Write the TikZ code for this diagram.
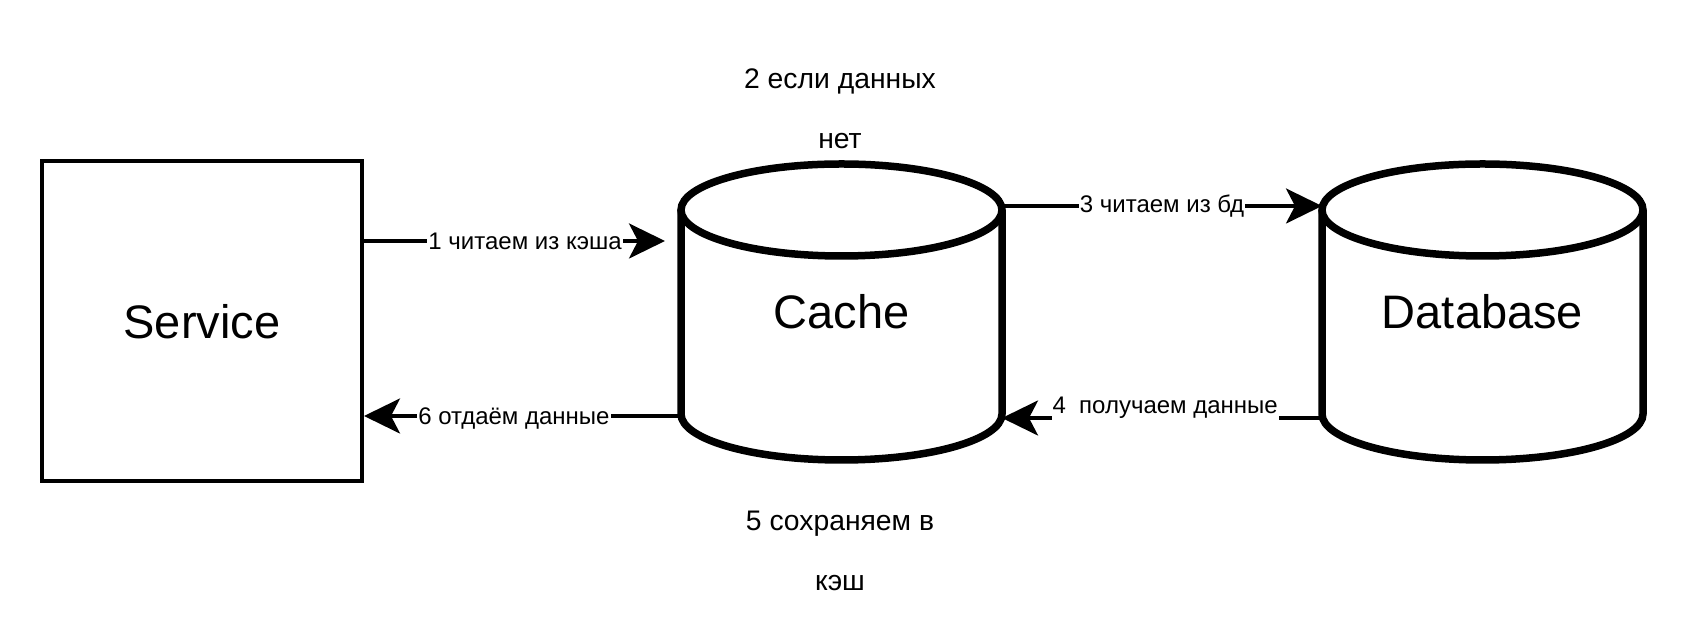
\documentclass[tikz,border=0pt]{standalone}
\usepackage{fontspec}
\setmainfont{Liberation Sans}
\usetikzlibrary{arrows.meta}
\begin{document}
\begin{tikzpicture}[x=1pt,y=1pt,
	big/.style={font=\fontsize{47}{56}\selectfont},
	cylbox/.style={big,minimum width=321pt,minimum height=296pt,inner sep=0pt,outer sep=0pt},
	cylline/.style={line width=7.5pt},
	flow/.style={line width=3.5pt,-{Stealth[length=36pt,width=35pt,inset=9pt]}},
	lbl/.style={fill=white,inner sep=1pt,font=\fontsize{24}{28}\selectfont},
	note/.style={align=center,font=\fontsize{28.3}{60}\selectfont}]
	\useasboundingbox (0,0) rectangle (1688,644);

	\node[big,draw,line width=4pt,minimum size=320pt] (service) at (202,322.5) {Service};

	\node[cylbox] (cache) at (841.5,332) {Cache};
	\draw[cylline] ([yshift=-46pt]cache.north) ellipse (160.5pt and 46pt);
	\draw[cylline] ([yshift=-46pt]cache.north west) -- ([yshift=46pt]cache.south west)
		arc(180:360:160.5pt and 46pt) -- ([yshift=-46pt]cache.north east);

	\node[cylbox] (db) at (1482.5,332) {Database};
	\draw[cylline] ([yshift=-46pt]db.north) ellipse (160.5pt and 46pt);
	\draw[cylline] ([yshift=-46pt]db.north west) -- ([yshift=46pt]db.south west)
		arc(180:360:160.5pt and 46pt) -- ([yshift=-46pt]db.north east);

	\node[note] (miss) at (840,535) {2 если данных\\нет};
	\node[note] (save) at (840,93) {5 сохраняем в\\кэш};

	\coordinate (c1) at (665,403);
	\draw[flow] (service.east |- c1) -- (c1) node[lbl,pos=.535] {1 читаем из кэша};
	\draw[flow] ([yshift=106pt]cache.east) -- ([yshift=106pt]db.west) node[lbl,pos=.5] {3 читаем из бд};
	\draw[flow] ([yshift=-106pt]db.west) -- ([yshift=-106pt]cache.east) node[lbl,pos=.49,yshift=10pt,inner ysep=9pt] {4\ \ получаем данные};
	\draw[flow] ([yshift=-104pt]cache.west) -- ([yshift=-94.5pt]service.east) node[lbl,pos=.527,yshift=-3pt] {6 отдаём данные};
\end{tikzpicture}
\end{document}
